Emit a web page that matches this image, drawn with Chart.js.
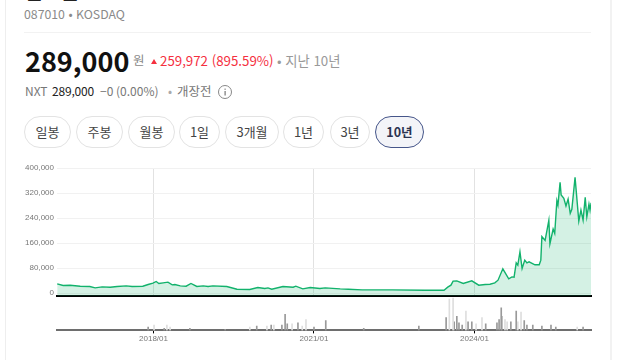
<!DOCTYPE html>
<html lang="ko">
  <head>
    <meta charset="UTF-8" />
    <title>087010 KOSDAQ</title>
    <script src="https://cdn.jsdelivr.net/npm/chart.js"></script>
    <style>
      html, body { margin: 0; padding: 0; background: #fff; }
      body {
        width: 640px;
        height: 360px;
        overflow: hidden;
        position: relative;
        font-family: "Noto Sans CJK KR", "Noto Sans", sans-serif;
        color: #222;
      }
      .abs { position: absolute; white-space: nowrap; line-height: 1; }
      .edge { position: absolute; top: 0; height: 360px; background: #eee; }
      .rule { position: absolute; left: 24px; top: 32px; width: 567px; height: 1px; background: #f2f2f2; }
      .pill {
        position: absolute;
        top: 116px;
        height: 30px;
        box-sizing: content-box;
        border: 1px solid #e3e3e3;
        border-radius: 16px;
        text-align: center;
        line-height: 29px;
        font-size: 13px;
        color: #444;
      }
      .pill.on { border-color: #46568a; background: #f3f4f8; color: #2b3350; font-weight: 700; font-size: 12.5px; }
      canvas { position: absolute; left: 0; }
      .up { border-left: 3px solid transparent; border-right: 3px solid transparent; border-bottom: 5px solid #f5303f; position: absolute; left: 151px; top: 59px; }
    </style>
  </head>
  <body>
    <div class="edge" style="left: 5px; width: 1px"></div>
    <div class="edge" style="left: 610px; width: 2px; background: #f2f2f2"></div>
    <div class="abs" style="left: 24px; top: -19px; font-size: 20px; font-weight: 700">펩트론</div>
    <div class="abs" style="left: 24px; top: 8px; font-size: 12.3px; color: #8a8a8a">087010 • KOSDAQ</div>
    <div class="rule"></div>
    <div class="abs" style="left: 25px; top: 47px; font-size: 27px; font-weight: 700; color: #111">289,000</div>
    <div class="abs" style="left: 133px; top: 54px; font-size: 12.5px; color: #888">원</div>
    <div class="up"></div>
    <div class="abs" style="left: 160px; top: 54px; font-size: 13.3px; color: #f5303f">259,972 (895.59%)</div>
    <div class="abs" style="left: 277px; top: 54px; font-size: 13.3px; color: #999">• 지난 10년</div>
    <div class="abs" style="left: 25px; top: 85px; font-size: 12px; color: #777">NXT</div>
    <div class="abs" style="left: 52px; top: 85px; font-size: 12px; letter-spacing: -0.2px; color: #222">289,000</div>
    <div class="abs" style="left: 100px; top: 85px; font-size: 12px; color: #777">−0 (0.00%)</div>
    <div class="abs" style="left: 168px; top: 85px; font-size: 12px; color: #aaa">•</div>
    <div class="abs" style="left: 177px; top: 85px; font-size: 12.5px; color: #777">개장전</div>
    <svg class="abs" style="left: 218px; top: 85px" width="15" height="15" viewBox="0 0 15 15">
      <circle cx="7" cy="7" r="6.5" fill="none" stroke="#888" />
      <rect x="6.5" y="6" width="1.2" height="4.5" fill="#777" />
      <rect x="6.5" y="3.6" width="1.2" height="1.2" fill="#777" />
    </svg>

    <div class="pill" style="left: 24px; width: 45px">일봉</div>
    <div class="pill" style="left: 76px; width: 45px">주봉</div>
    <div class="pill" style="left: 128px; width: 45px">월봉</div>
    <div class="pill" style="left: 179px; width: 39px">1일</div>
    <div class="pill" style="left: 225px; width: 52px">3개월</div>
    <div class="pill" style="left: 283px; width: 39px">1년</div>
    <div class="pill" style="left: 330px; width: 38px">3년</div>
    <div class="pill on" style="left: 375px; width: 47px">10년</div>

    <canvas id="priceChart" style="top: 160px" width="600" height="144"></canvas>
    <canvas id="volumeChart" style="top: 295px" width="600" height="50"></canvas>

    <script>
      // x values are decimal years
      const priceYears = [
        2016.2, 2016.31, 2016.44, 2016.63, 2016.81, 2016.91, 2017.04, 2017.19, 2017.32, 2017.49,
        2017.6, 2017.8, 2017.9, 2017.99, 2018.05, 2018.1, 2018.18, 2018.27, 2018.35, 2018.4,
        2018.5, 2018.61, 2018.7, 2018.81, 2018.93, 2019.02, 2019.11, 2019.37, 2019.56, 2019.8,
        2019.95, 2020.08, 2020.14, 2020.21, 2020.42, 2020.61, 2020.66, 2020.79, 2020.93, 2021.11,
        2021.21, 2021.49, 2021.64, 2021.9, 2022.46, 2023.07, 2023.43, 2023.5, 2023.56, 2023.6,
        2023.67, 2023.79, 2023.95, 2024.08, 2024.2, 2024.29, 2024.38, 2024.44, 2024.53, 2024.64,
        2024.7, 2024.74, 2024.78, 2024.81, 2024.85, 2024.89, 2024.94, 2024.98, 2025.02, 2025.13,
        2025.21, 2025.24, 2025.26, 2025.32, 2025.39, 2025.41, 2025.47, 2025.5, 2025.54, 2025.56,
        2025.6, 2025.62, 2025.67, 2025.71, 2025.75, 2025.79, 2025.82, 2025.88, 2025.95, 2025.99,
        2026.03, 2026.07, 2026.1, 2026.14, 2026.16, 2026.18,
      ];
      const prices = [
        29800, 24600, 25600, 22400, 21400, 17000, 20300, 19200, 21400, 23400,
        21400, 22400, 27800, 32000, 37400, 31000, 33000, 35200, 26600, 27800,
        23400, 22400, 31000, 21400, 23400, 21400, 23400, 21400, 12800, 11800,
        18200, 15000, 17000, 12800, 21400, 19200, 22400, 13800, 18200, 15000,
        17000, 13800, 12800, 10600, 10600, 9600, 9600, 19200, 25600, 38400,
        39400, 31000, 39400, 25600, 27800, 28800, 33000, 41600, 77800, 45800,
        52200, 51200, 97000, 89600, 132000, 79000, 105600, 97000, 100000, 90700,
        90700, 105600, 181000, 168600, 232600, 157800, 204800, 191000, 295500, 281600,
        354000, 313600, 303000, 278400, 300800, 255000, 268000, 370000, 230400, 265600,
        233600, 306000, 244000, 284800, 265600, 289000,
      ];
      const priceTicks = [0, 80000, 160000, 240000, 320000, 400000];
      const xTickYears = [2018, 2021, 2024];
      const xTickLabels = ["2018/01", "2021/01", "2024/01"];

      const darkVolYears = [
        2017.9, 2018.2, 2018.68, 2019.34, 2019.93, 2020.2, 2020.4, 2020.46, 2020.5, 2020.7,
        2021.0, 2021.22, 2021.93, 2022.96, 2023.47, 2023.62, 2023.67, 2023.71, 2023.77, 2023.88,
        2023.95, 2024.21, 2024.42, 2024.46, 2024.5, 2024.51, 2024.68, 2024.78, 2024.93, 2024.98,
        2025.09, 2025.26, 2025.43, 2025.52, 2026.03,
      ];
      const darkVols = [
        3, 2, 2, 1, 4, 5, 5, 15, 6, 7,
        3, 9, 2, 4, 12, 8, 13, 7, 5, 8,
        8, 6, 7, 10, 21, 13, 8, 18, 9, 5,
        5, 4, 5, 3, 3,
      ];
      const lightVolYears = [
        2018.01, 2018.25, 2018.31, 2019.8, 2020.12, 2020.25, 2020.59, 2020.78, 2020.85, 2023.53,
        2023.6, 2023.84, 2024.03, 2024.14, 2024.57, 2024.61, 2024.81, 2024.87, 2025.92,
      ];
      const lightVols = [5, 5, 3, 3, 4, 5, 6, 4, 10, 29, 30, 18, 6, 12, 10, 8, 8, 17, 3];

      const labelFont = { family: "'Liberation Sans', Arial, sans-serif", size: 8 };

      function pairs(xs, ys) {
        return xs.map((x, i) => ({ x, y: ys[i] }));
      }

      function setXTicks(scale) {
        scale.ticks = xTickYears.map((value) => ({ value }));
      }

      new Chart(document.getElementById("priceChart"), {
        type: "line",
        data: {
          datasets: [
            {
              data: pairs(priceYears, prices),
              borderColor: "#12b26c",
              borderWidth: 1.4,
              backgroundColor: "rgba(18, 178, 108, 0.18)",
              fill: "start",
              pointRadius: 0,
              tension: 0,
            },
          ],
        },
        options: {
          responsive: false,
          animation: false,
          layout: { padding: { top: 8, right: 9, bottom: 3 } },
          plugins: { legend: { display: false }, tooltip: { enabled: false } },
          scales: {
            x: {
              type: "linear",
              min: 2016.196,
              max: 2026.178,
              afterBuildTicks: setXTicks,
              ticks: { display: false },
              grid: { color: "#e2e2e2", drawTicks: false },
              border: { color: "#000", width: 2 },
            },
            y: {
              min: -9600,
              max: 400000,
              afterBuildTicks: (scale) => {
                scale.ticks = priceTicks.map((value) => ({ value }));
              },
              afterFit: (scale) => {
                scale.width = 57;
              },
              ticks: {
                color: "#777",
                font: labelFont,
                padding: 3,
                callback: (v) => v.toLocaleString("en-US"),
              },
              grid: { color: "#f1f1f1", drawTicks: false },
              border: { display: false },
            },
          },
        },
      });

      new Chart(document.getElementById("volumeChart"), {
        type: "bar",
        data: {
          datasets: [
            {
              data: pairs(lightVolYears, lightVols),
              backgroundColor: "#dedede",
              barThickness: 1,
              grouped: false,
            },
            {
              data: pairs(darkVolYears, darkVols),
              backgroundColor: "#999",
              barThickness: 1,
              grouped: false,
            },
          ],
        },
        options: {
          responsive: false,
          animation: false,
          layout: { padding: { left: 57, top: 2, right: 9 } },
          plugins: { legend: { display: false }, tooltip: { enabled: false } },
          scales: {
            x: {
              type: "linear",
              offset: false,
              min: 2016.196,
              max: 2026.178,
              afterBuildTicks: setXTicks,
              ticks: {
                color: "#777",
                font: labelFont,
                padding: 1,
                maxRotation: 0,
                autoSkip: false,
                callback: (v) => xTickLabels[xTickYears.indexOf(v)],
              },
              grid: { offset: false, drawOnChartArea: false, tickColor: "#000", tickLength: 3 },
              border: { color: "#6e6e6e", width: 2 },
            },
            y: { display: false, min: 0, max: 31 },
          },
        },
      });
    </script>
  </body>
</html>
